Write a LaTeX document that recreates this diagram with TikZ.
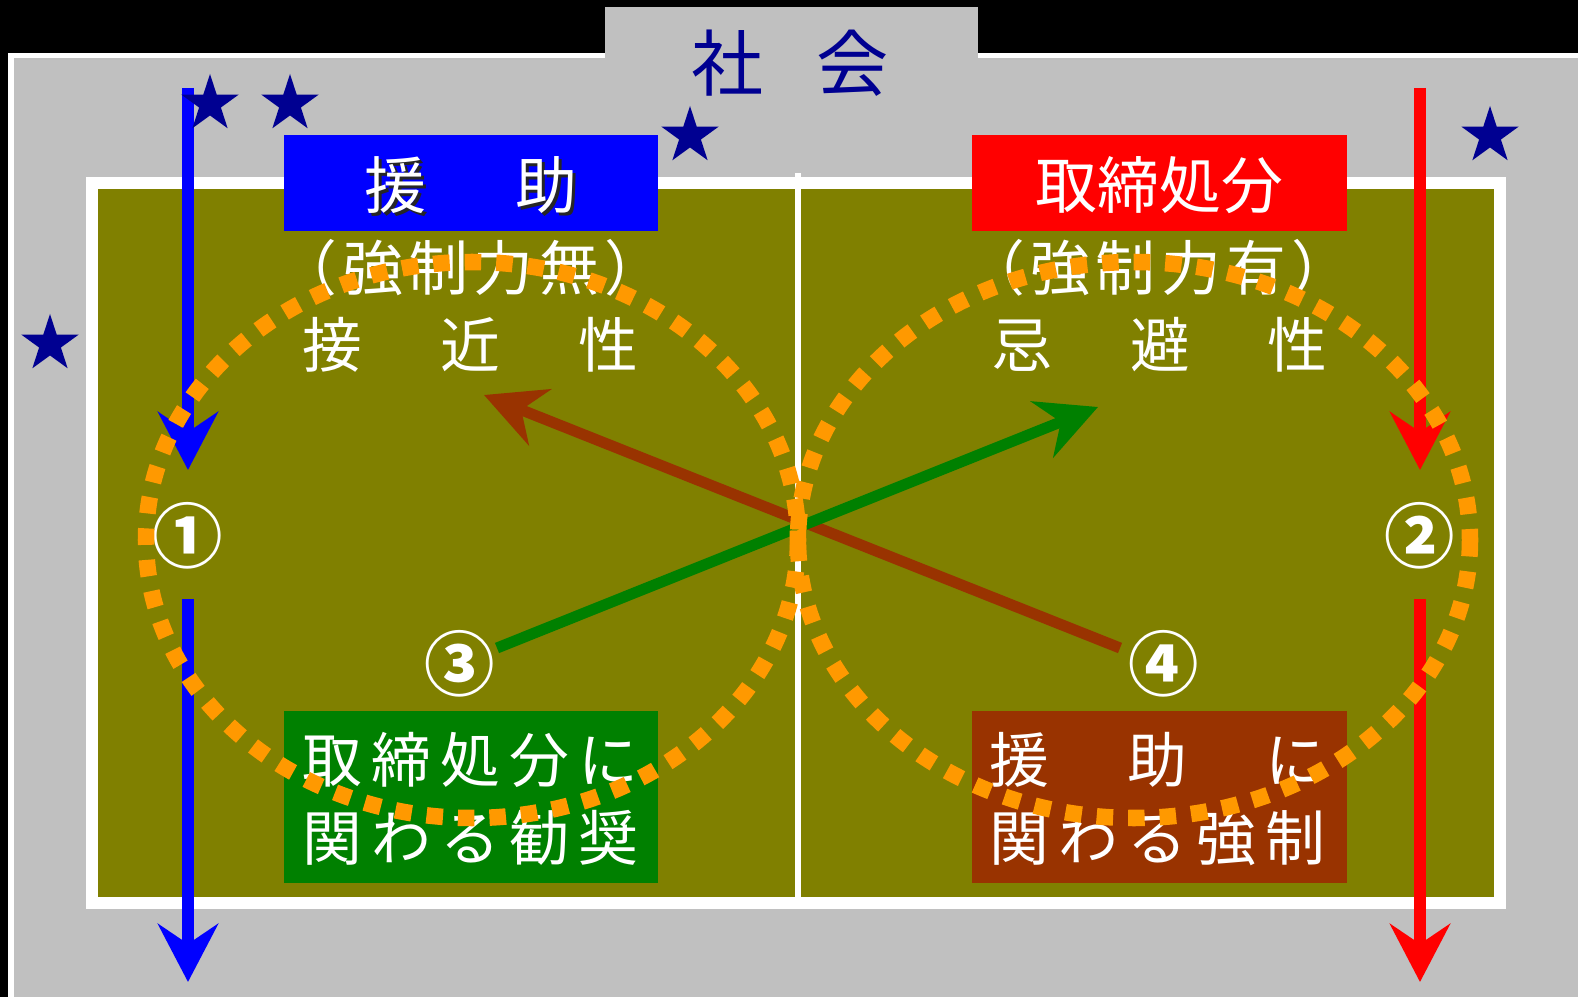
\documentclass[tikz,border=0pt]{standalone}
\usepackage{fontspec}
\newfontfamily\jp{Noto Sans CJK JP}
\usetikzlibrary{shapes.geometric,arrows.meta}
\definecolor{grayback}{RGB}{192,192,192}
\definecolor{field}{RGB}{128,128,0}
\definecolor{navyish}{RGB}{0,0,145}
\definecolor{rust}{RGB}{153,51,0}
\definecolor{leaf}{RGB}{0,128,0}
\definecolor{ringcol}{RGB}{255,153,0}
\tikzset{
  panel/.style={inner sep=0, minimum width=3.74cm},
  whitetxt/.style={text=white, inner sep=0, font=\jp\fontsize{17pt}{20pt}\selectfont},
  bigtxt/.style={text=white, inner sep=0, font=\jp\fontsize{17.6pt}{20pt}\selectfont},
  numtxt/.style={text=white, inner sep=0, font=\jp\bfseries\fontsize{20pt}{22pt}\selectfont},
  starmark/.style={star, star points=5, star point ratio=2.618, fill=navyish, inner sep=0, minimum size=0.6cm},
  ring/.style={ringcol, line width=0.165cm, dash pattern=on 0.165cm off 0.15cm},
  flowarrow/.style={line width=0.12cm, -{Stealth[length=0.58cm,width=0.6cm,inset=0.2cm]}},
  crossarrow/.style={line width=0.11cm, -{Stealth[length=0.6cm,width=0.6cm,inset=0.2cm]}}
}
\newcommand{\spreadline}[2]{\makebox[#1][s]{#2}}
\begin{document}
\begin{tikzpicture}[x=0.01cm,y=-0.01cm]
  \useasboundingbox (0,0) rectangle (1578,997);
  \fill[black] (0,0) rectangle (1578,997);
  % society
  \fill[grayback] (11,55) rectangle (1578,997);
  \draw[white,line width=0.05cm] (11,997) -- (11,55.5) -- (1578,55.5);
  \fill[grayback] (605,7) rectangle (978,58);
  \node[inner sep=0, text=navyish, font=\jp\fontsize{20.5pt}{24pt}\selectfont] (shakai) at (790,63) {\spreadline{1.97cm}{社\hfill 会}};
  % field
  \draw[white,line width=0.12cm,fill=field] (92,183) rectangle (1500,902.5);
  \coordinate (divTop) at (798,173);
  \coordinate (divBot) at (798,897);
  \draw[white,line width=0.06cm] (divTop) -- (divBot);
  % top boxes
  \node[panel, fill=blue, minimum height=0.96cm] (enjo) at (471,183) {};
  \node[bigtxt, text=black!85] (enjoShadow) at (474,188) {\spreadline{2.12cm}{援\hfill 助}};
  \node[bigtxt] (enjoTitle) at (471,185) {\spreadline{2.12cm}{援\hfill 助}};
  \node[panel, fill=red, minimum height=0.96cm] (torishimari) at (1159.5,183) {};
  \node[bigtxt] (toriTitle) at (1159.5,185) {取締処分};
  \node[whitetxt] (kyoseiNashi) at (471,268) {\spreadline{3.86cm}{（\hfill 強\hfill 制\hfill 力\hfill 無\hfill ）}};
  \node[whitetxt] (sekkin) at (470.5,345) {\spreadline{3.35cm}{接\hfill 近\hfill 性}};
  \node[whitetxt] (kyoseiAri) at (1158.5,268) {\spreadline{3.86cm}{（\hfill 強\hfill 制\hfill 力\hfill 有\hfill ）}};
  \node[whitetxt] (kihi) at (1160,345) {\spreadline{3.35cm}{忌\hfill 避\hfill 性}};
  % bottom boxes
  \node[panel, fill=leaf, minimum height=1.72cm] (kansho) at (471,797) {};
  \node[whitetxt] (kanshoA) at (470.5,760) {\spreadline{3.35cm}{取\hfill 締\hfill 処\hfill 分\hfill に}};
  \node[whitetxt] (kanshoB) at (470.5,838) {\spreadline{3.35cm}{関\hfill わ\hfill る\hfill 勧\hfill 奨}};
  \node[panel, fill=rust, minimum height=1.72cm] (kyosei) at (1159.5,797) {};
  \node[whitetxt] (kyoseiA) at (1157.5,760) {\spreadline{3.35cm}{援\hfill 助\hfill に}};
  \node[whitetxt] (kyoseiB) at (1157.5,838) {\spreadline{3.35cm}{関\hfill わ\hfill る\hfill 強\hfill 制}};
  % numbers
  \node[numtxt] (num1) at (188,536) {①};
  \node[numtxt] (num2) at (1420,536) {②};
  \node[numtxt] (num3) at (460,664) {③};
  \node[numtxt] (num4) at (1164,664) {④};
  % vertical flows
  \coordinate (bTop) at (188,88);
  \coordinate (bMid) at (188,470);
  \coordinate (bLow) at (188,599);
  \coordinate (bEnd) at (188,982);
  \coordinate (rTop) at (1420,88);
  \coordinate (rMid) at (1420,470);
  \coordinate (rLow) at (1420,599);
  \coordinate (rEnd) at (1420,982);
  \draw[flowarrow, blue] (bTop) -- (bMid);
  \draw[flowarrow, blue] (bLow) -- (bEnd);
  \draw[flowarrow, red] (rTop) -- (rMid);
  \draw[flowarrow, red] (rLow) -- (rEnd);
  % cross arrows
  \coordinate (brownTail) at (1120,648);
  \coordinate (brownTip) at (484,395);
  \coordinate (greenTail) at (497,648);
  \coordinate (greenTip) at (1098,407);
  \draw[crossarrow, rust] (brownTail) -- (brownTip);
  \draw[crossarrow, leaf] (greenTail) -- (greenTip);
  % stars
  \node[starmark] (star1) at (210,104) {};
  \node[starmark] (star2) at (290,104) {};
  \node[starmark] (star3) at (690,136) {};
  \node[starmark] (star4) at (50,344) {};
  \node[starmark] (star5) at (1490,136) {};
  % rings
  \draw[ring] (472,540) ellipse [x radius=326, y radius=278];
  \draw[ring] (1134,540) ellipse [x radius=336, y radius=278];
\end{tikzpicture}
\end{document}
